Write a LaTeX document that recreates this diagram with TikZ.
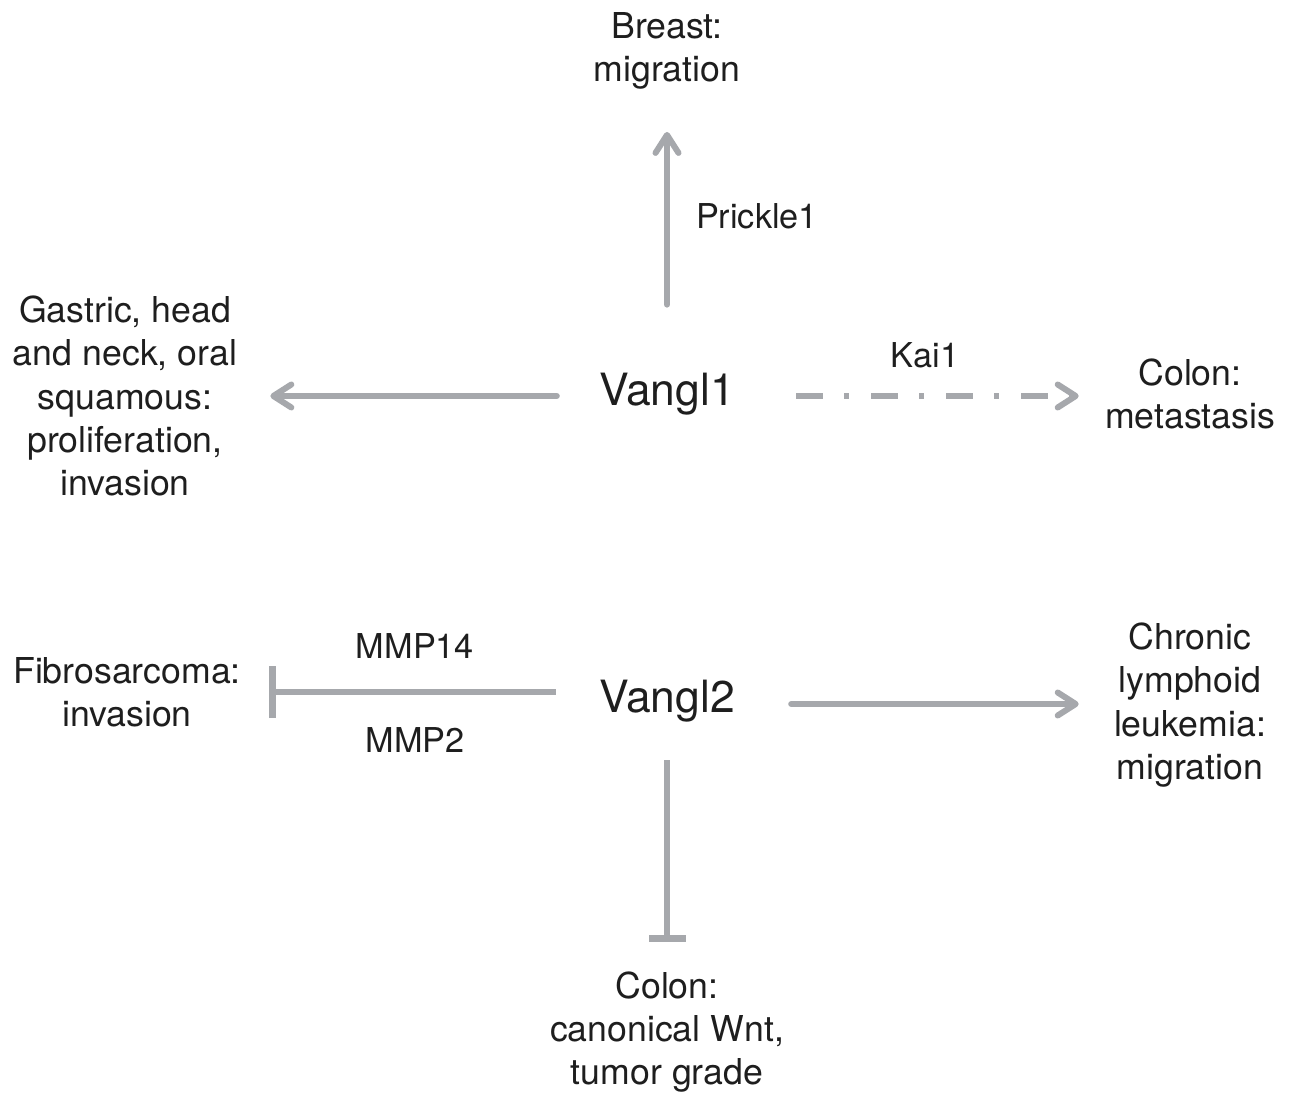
\documentclass[tikz,border=0pt]{standalone}
\usepackage{fontspec}
\setmainfont{TeX Gyre Heros}
\usepackage{tikz}
\usetikzlibrary{arrows.meta,positioning}
\definecolor{pathgrey}{RGB}{166,168,172}
\definecolor{inkblack}{RGB}{30,30,30}

\begin{document}
\begin{tikzpicture}[x=0.02cm, y=-0.02cm,
    effect/.style={align=center, inner sep=0pt, text=inkblack, font=\fontsize{20.3}{24.7}\selectfont},
    gene/.style={inner sep=0pt, text=inkblack, font=\fontsize{25.3}{29}\selectfont},
    via/.style={inner sep=0pt, text=inkblack, font=\fontsize{19.5}{23}\selectfont},
    arr/.style={draw=pathgrey, line width=0.12cm, line cap=round, -{Straight Barb[length=0.36cm, width=0.46cm, round]}},
    dashdot/.style={draw=pathgrey, line width=0.12cm, dash pattern=on 0.54cm off 0.42cm on 0.1cm off 0.44cm, -{Straight Barb[length=0.36cm, width=0.46cm, round]}},
    blockwide/.style={draw=pathgrey, line width=0.12cm, -{Bar[width=1.04cm, line width=0.14cm]}},
    blocknarrow/.style={draw=pathgrey, line width=0.12cm, -{Bar[width=0.74cm, line width=0.14cm]}}]
    \useasboundingbox (0,0) rectangle (1294,1094);

    % Genes
    \node[gene] (vangl1) at (667,394) {Vangl1};
    \node[gene] (vangl2) at (667,701) {Vangl2};

    % Outcomes
    \node[effect] (breast) at (667,51) {Breast:\\migration};
    \node[effect] (gastric) at (125,396) {Gastric, head\\and neck, oral\\squamous:\\proliferation,\\invasion};
    \node[effect] (colonmet) at (1190,394) {Colon:\\metastasis};
    \node[effect] (fibro) at (127,692) {Fibrosarcoma:\\invasion};
    \node[effect] (cll) at (1190,705) {Chronic\\lymphoid\\leukemia:\\migration};
    \node[effect] (colonwnt) at (667,1032) {Colon:\\canonical Wnt,\\tumor grade};

    % Mediators
    \node[via] (prickle) at (757,216) {Prickle1};
    \node[via] (kai) at (925,355) {Kai1};
    \node[via] (mmpa) at (415,646) {MMP14};
    \node[via] (mmpb) at (415,740) {MMP2};

    % Vangl1 branches
    \draw[arr, shorten <=1.36cm, shorten >=0.84cm] (vangl1.north) -- (breast.south);
    \draw[arr, shorten <=0.84cm, shorten >=0.66cm] ([yshift=-0.04cm]vangl1.west) -- ([yshift=-0.04cm]vangl1.west -| gastric.east);
    \draw[dashdot, shorten <=1.22cm, shorten >=0.52cm] ([yshift=-0.04cm]vangl1.east) -- ([yshift=-0.04cm]vangl1.east -| colonmet.west);

    % Vangl2 branches
    \draw[blockwide, shorten <=0.86cm, shorten >=0.56cm] ([yshift=0.18cm]vangl2.west) -- ([yshift=0.18cm]vangl2.west -| fibro.east);
    \draw[arr, shorten <=1.12cm, shorten >=0.7cm] ([yshift=-0.06cm]vangl2.east) -- ([yshift=-0.06cm]vangl2.east -| cll.west);
    \draw[blocknarrow, shorten <=0.76cm, shorten >=0.58cm] (vangl2.south) -- (colonwnt.north);

\end{tikzpicture}
\end{document}
